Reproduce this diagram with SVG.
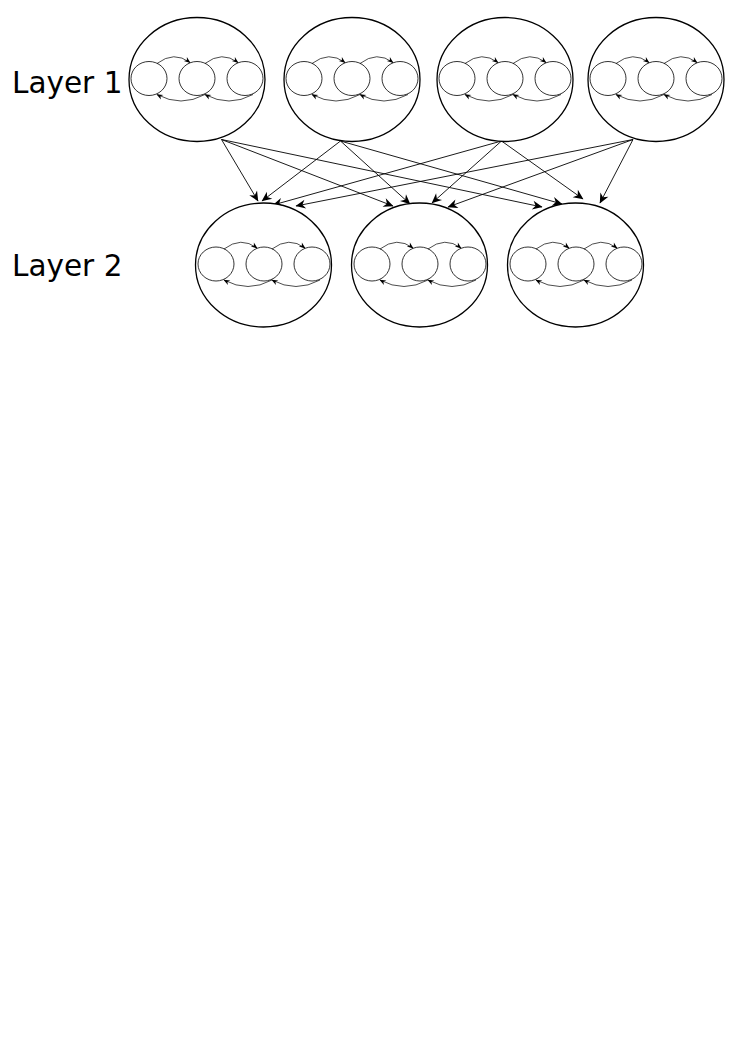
<svg xmlns="http://www.w3.org/2000/svg" xmlns:xlink="http://www.w3.org/1999/xlink" width="745" height="1053" viewBox="0 0 745 1053">
<style>
.big{fill:#fff;stroke:#000;stroke-width:1.3}
.small{fill:#fff;stroke:#000;stroke-width:0.8}
.arc{fill:none;stroke:#000;stroke-width:0.7;marker-end:url(#sa)}
.conn{fill:none;stroke:#000;stroke-width:0.9;marker-end:url(#ba)}
.lbl{font-family:"DejaVu Sans",sans-serif;font-size:29.5px;fill:#000}
</style>
<defs>
<marker id="sa" viewBox="0 0 10 10" markerUnits="userSpaceOnUse" markerWidth="8" markerHeight="6.5" refX="9" refY="5" orient="auto">
<path d="M0,1 L10,5 L0,9 L3,5 z" fill="#000"/>
</marker>
<marker id="ba" viewBox="0 0 10 10" markerUnits="userSpaceOnUse" markerWidth="13" markerHeight="10" refX="9.5" refY="5" orient="auto">
<path d="M0,0.5 L10,5 L0,9.5 L3,5 z" fill="#000"/>
</marker>
<g id="inner">
<ellipse class="small" cx="-48" cy="-1" rx="18" ry="17"/>
<ellipse class="small" cx="0" cy="-1" rx="18" ry="17"/>
<ellipse class="small" cx="48" cy="-1" rx="18" ry="17"/>
<path class="arc" d="M-40,-16 Q-23,-29 -7,-17"/>
<path class="arc" d="M8,-16 Q25,-29 41,-17"/>
<path class="arc" d="M8,15 Q-16,28 -40,15"/>
<path class="arc" d="M56,15 Q32,28 8,15"/>
</g>
</defs>
<text class="lbl" x="12" y="93">Layer 1</text>
<text class="lbl" x="12" y="276">Layer 2</text>
<g id="connectors">
<path class="conn" d="M221.5,139.5 L258,201"/>
<path class="conn" d="M221.5,139.5 L393,206"/>
<path class="conn" d="M221.5,139.5 L542,207"/>
<path class="conn" d="M340.5,141 L262,201"/>
<path class="conn" d="M340.5,141 L410,204"/>
<path class="conn" d="M340.5,141 L562,204"/>
<path class="conn" d="M501.5,141 L273,205"/>
<path class="conn" d="M501.5,141 L432,203"/>
<path class="conn" d="M501.5,141 L583,199"/>
<path class="conn" d="M633,139.5 L296,206"/>
<path class="conn" d="M633,139.5 L448,207"/>
<path class="conn" d="M633,139.5 L600,203"/>
</g>
<g id="l1n1"><ellipse class="big" cx="197" cy="79.5" rx="68" ry="62"/><use xlink:href="#inner" href="#inner" x="197" y="79.5"/></g>
<g id="l1n2"><ellipse class="big" cx="352" cy="79.5" rx="68" ry="62"/><use xlink:href="#inner" href="#inner" x="352" y="79.5"/></g>
<g id="l1n3"><ellipse class="big" cx="505" cy="79.5" rx="68" ry="62"/><use xlink:href="#inner" href="#inner" x="505" y="79.5"/></g>
<g id="l1n4"><ellipse class="big" cx="656" cy="79.5" rx="68" ry="62"/><use xlink:href="#inner" href="#inner" x="656" y="79.5"/></g>
<g id="l2n1"><ellipse class="big" cx="263.5" cy="265" rx="68" ry="62"/><use xlink:href="#inner" href="#inner" x="264" y="265"/></g>
<g id="l2n2"><ellipse class="big" cx="419.5" cy="265" rx="68" ry="62"/><use xlink:href="#inner" href="#inner" x="420" y="265"/></g>
<g id="l2n3"><ellipse class="big" cx="575.5" cy="265" rx="68" ry="62"/><use xlink:href="#inner" href="#inner" x="576" y="265"/></g>
</svg>
